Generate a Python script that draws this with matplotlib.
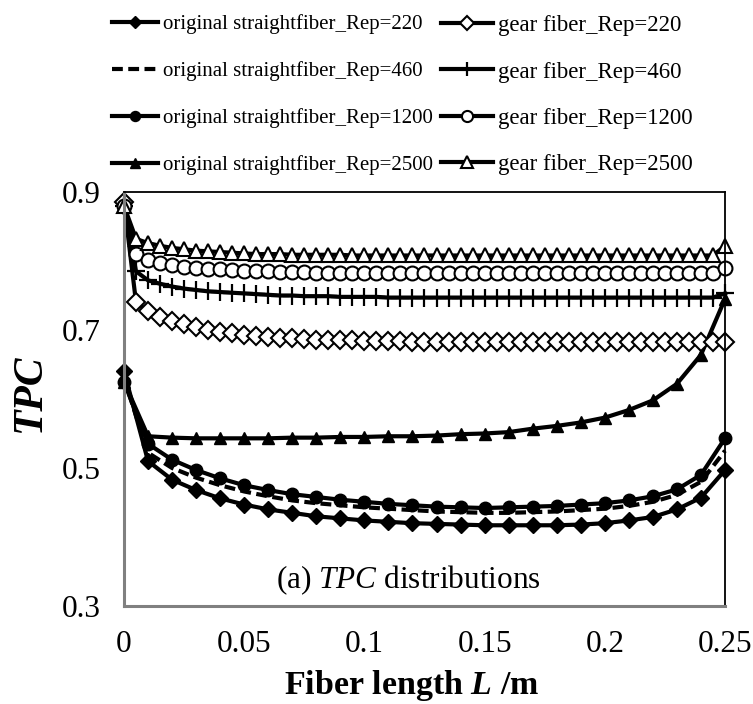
import matplotlib
matplotlib.use("Agg")
import matplotlib.pyplot as plt

plt.rcParams.update({
    "font.family": ["Liberation Serif", "DejaVu Serif"],
    "mathtext.fontset": "custom",
    "mathtext.rm": "Liberation Serif",
    "mathtext.it": "Liberation Serif:italic",
    "mathtext.bf": "Liberation Serif:italic:bold",
})

# Fiber positions (m)
L_straight = [round(0.01 * i, 3) for i in range(26)]
L_gear = [round(0.005 * i, 4) for i in range(51)]

# Original straight fiber TPC
tpc_straight_220 = [0.640, 0.510, 0.483, 0.468, 0.456, 0.447, 0.440, 0.435, 0.430, 0.427,
                    0.424, 0.422, 0.420, 0.419, 0.418, 0.417, 0.417, 0.417, 0.417, 0.418,
                    0.420, 0.424, 0.429, 0.440, 0.457, 0.497]
tpc_straight_460 = [0.630, 0.522, 0.500, 0.486, 0.475, 0.466, 0.459, 0.453, 0.449, 0.446,
                    0.443, 0.441, 0.439, 0.437, 0.436, 0.435, 0.435, 0.436, 0.437, 0.439,
                    0.441, 0.445, 0.451, 0.461, 0.480, 0.525]
tpc_straight_1200 = [0.625, 0.535, 0.512, 0.497, 0.485, 0.475, 0.468, 0.462, 0.458, 0.454,
                     0.451, 0.448, 0.446, 0.444, 0.443, 0.442, 0.443, 0.444, 0.445, 0.447,
                     0.449, 0.453, 0.459, 0.469, 0.490, 0.543]
tpc_straight_2500 = [0.625, 0.546, 0.544, 0.543, 0.543, 0.543, 0.543, 0.544, 0.544, 0.545,
                     0.545, 0.546, 0.546, 0.547, 0.549, 0.550, 0.552, 0.557, 0.561, 0.566,
                     0.573, 0.584, 0.598, 0.622, 0.664, 0.745]

# Gear fiber TPC
tpc_gear_220 = [0.885, 0.740, 0.727, 0.719, 0.713, 0.708, 0.704, 0.700, 0.697, 0.695,
                0.693, 0.691, 0.690, 0.689, 0.688, 0.687, 0.686, 0.686, 0.685, 0.685,
                0.684, 0.684, 0.684, 0.684, 0.683, 0.683, 0.683, 0.683, 0.683, 0.683,
                0.683, 0.683, 0.683, 0.683, 0.683, 0.683, 0.683, 0.683, 0.683, 0.683,
                0.683, 0.683, 0.683, 0.683, 0.683, 0.683, 0.683, 0.683, 0.683, 0.683,
                0.683]
tpc_gear_460 = [0.880, 0.785, 0.772, 0.767, 0.763, 0.760, 0.758, 0.756, 0.755, 0.754,
                0.753, 0.752, 0.751, 0.750, 0.750, 0.749, 0.749, 0.749, 0.748, 0.748,
                0.748, 0.748, 0.747, 0.747, 0.747, 0.747, 0.747, 0.747, 0.747, 0.747,
                0.747, 0.747, 0.747, 0.747, 0.747, 0.747, 0.747, 0.747, 0.747, 0.747,
                0.747, 0.747, 0.747, 0.747, 0.747, 0.747, 0.747, 0.747, 0.747, 0.747,
                0.753]
tpc_gear_1200 = [0.880, 0.810, 0.802, 0.797, 0.794, 0.792, 0.790, 0.789, 0.788, 0.787,
                 0.786, 0.785, 0.785, 0.784, 0.784, 0.784, 0.783, 0.783, 0.783, 0.783,
                 0.783, 0.782, 0.782, 0.782, 0.782, 0.782, 0.782, 0.782, 0.782, 0.782,
                 0.782, 0.782, 0.782, 0.782, 0.782, 0.782, 0.782, 0.782, 0.782, 0.782,
                 0.782, 0.782, 0.782, 0.782, 0.782, 0.782, 0.782, 0.782, 0.782, 0.782,
                 0.790]
tpc_gear_2500 = [0.880, 0.832, 0.826, 0.822, 0.819, 0.817, 0.815, 0.814, 0.813, 0.812,
                 0.811, 0.810, 0.810, 0.810, 0.809, 0.809, 0.809, 0.809, 0.809, 0.808,
                 0.808, 0.808, 0.808, 0.808, 0.808, 0.808, 0.808, 0.808, 0.808, 0.808,
                 0.808, 0.808, 0.808, 0.808, 0.808, 0.808, 0.808, 0.808, 0.808, 0.808,
                 0.808, 0.808, 0.808, 0.808, 0.808, 0.808, 0.808, 0.808, 0.808, 0.808,
                 0.822]

labels_straight = ["original straightfiber_Rep=220", "original straightfiber_Rep=460",
                   "original straightfiber_Rep=1200", "original straightfiber_Rep=2500"]
labels_gear = ["gear fiber_Rep=220", "gear fiber_Rep=460",
               "gear fiber_Rep=1200", "gear fiber_Rep=2500"]

x_ticks = [0, 0.05, 0.1, 0.15, 0.2, 0.25]
x_ticklabels = ["0", "0.05", "0.1", "0.15", "0.2", "0.25"]
y_ticks = [0.3, 0.5, 0.7, 0.9]
y_ticklabels = ["0.3", "0.5", "0.7", "0.9"]

fig = plt.figure(figsize=(7.53, 7.04), dpi=100)
ax = fig.add_axes([124 / 753, 1 - 606 / 704, 601 / 753, 414 / 704])

lw = 3.0
k = "black"
h_straight = [
    ax.plot(L_straight, tpc_straight_220, color=k, lw=lw, marker="D", ms=8,
            mfc=k, mec=k, label=labels_straight[0])[0],
    ax.plot(L_straight, tpc_straight_460, color=k, lw=lw, ls=(0, (2.6, 1.3)),
            label=labels_straight[1])[0],
    ax.plot(L_straight, tpc_straight_1200, color=k, lw=lw, marker="o", ms=9,
            mfc=k, mec=k, label=labels_straight[2])[0],
    ax.plot(L_straight, tpc_straight_2500, color=k, lw=lw, marker="^", ms=9,
            mfc=k, mec=k, label=labels_straight[3])[0],
]
h_gear = [
    ax.plot(L_gear, tpc_gear_220, color=k, lw=lw, marker="D", ms=9.5,
            mfc="white", mec=k, mew=1.5, label=labels_gear[0])[0],
    ax.plot(L_gear, tpc_gear_460, color=k, lw=lw, marker="+", ms=13,
            mec=k, mew=1.6, label=labels_gear[1])[0],
    ax.plot(L_gear, tpc_gear_1200, color=k, lw=lw, marker="o", ms=10,
            mfc="white", mec=k, mew=1.5, label=labels_gear[2])[0],
    ax.plot(L_gear, tpc_gear_2500, color=k, lw=lw, marker="^", ms=10,
            mfc="white", mec=k, mew=1.5, label=labels_gear[3])[0],
]

for line in ax.get_lines():
    line.set_clip_on(False)

ax.set_xlim(0, 0.25)
ax.set_ylim(0.3, 0.9)
ax.set_xticks(x_ticks)
ax.set_xticklabels(x_ticklabels)
ax.set_yticks(y_ticks)
ax.set_yticklabels(y_ticklabels)
ax.tick_params(axis="both", length=0, labelsize=22.5)
ax.tick_params(axis="x", pad=17.5)
ax.tick_params(axis="y", pad=17)

for side in ("left", "bottom"):
    ax.spines[side].set_color("#808080")
    ax.spines[side].set_linewidth(2.2)
for side in ("top", "right"):
    ax.spines[side].set_color("black")
    ax.spines[side].set_linewidth(1.3)

ax.text(408 / 753, 1 - 580 / 704, r"(a) $\mathit{TPC}$ distributions",
        transform=fig.transFigure, ha="center", va="center", fontsize=22.5)

fig.text(30 / 753, 1 - 393 / 704, "TPC", rotation=90, ha="center", va="center",
         fontsize=30, fontweight="bold", fontstyle="italic")
fig.text(412 / 753, 1 / 704, r"Fiber length $\mathbf{L}$ /m", ha="center",
         va="bottom", fontsize=24.5, fontweight="bold")

leg_common = dict(loc="upper left", frameon=False, numpoints=1, markerscale=0.8,
                  borderaxespad=0, borderpad=0)
leg1 = fig.legend(handles=h_straight, bbox_to_anchor=(112 / 753, 1 - 14 / 704),
                  fontsize=15, handlelength=2.2, handletextpad=0.25,
                  labelspacing=1.3, **leg_common)
leg2 = fig.legend(handles=h_gear, bbox_to_anchor=(441 / 753, 1 - 15 / 704),
                  fontsize=16.5, handlelength=2.25, handletextpad=0.22,
                  labelspacing=1.11, **leg_common)

fig.savefig("out.png", dpi=100)
